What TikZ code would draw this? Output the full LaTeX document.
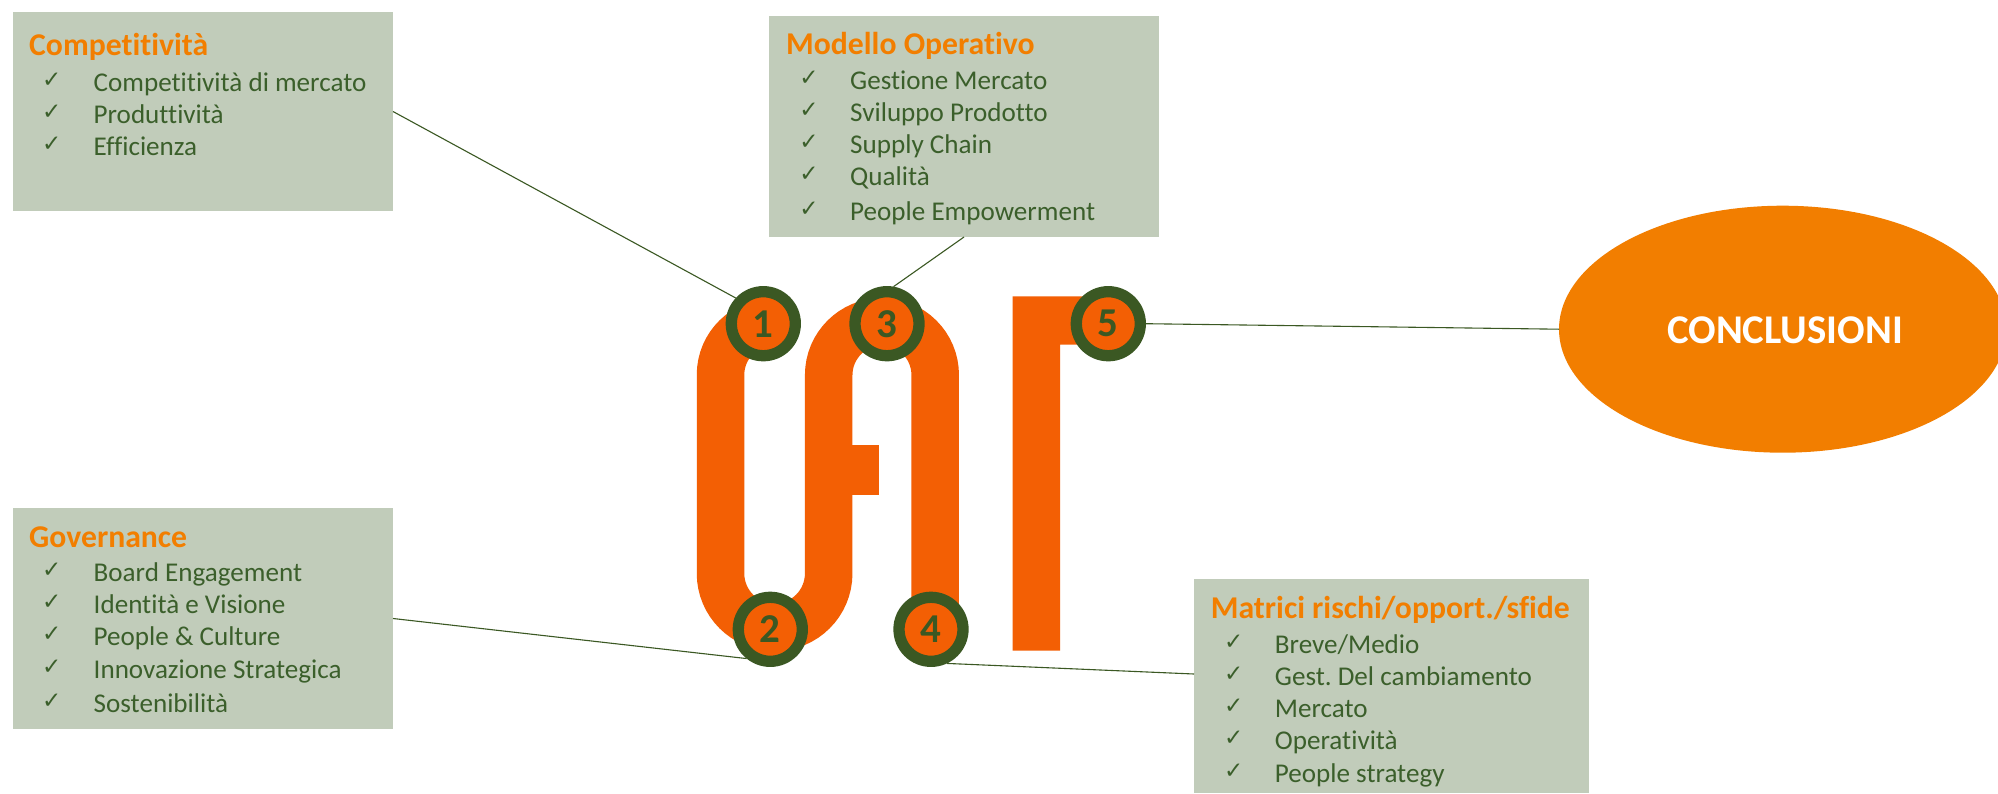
\documentclass[tikz,border=0pt]{standalone}
\usepackage{fontspec}
\setmainfont[Ligatures={NoCommon}]{Carlito}
\newfontfamily\checkfont{DejaVu Sans}
\usetikzlibrary{shapes.geometric}
\definecolor{boxgreen}{HTML}{C1CCBA}
\definecolor{darkgr}{HTML}{3B5823}
\definecolor{txtgr}{HTML}{3B5F2B}
\definecolor{logoor}{HTML}{F35F04}
\definecolor{softor}{HTML}{F27E00}
\frenchspacing
\tikzset{
  boxst/.style={fill=boxgreen,draw=none,anchor=north west,inner sep=0pt,outer sep=0pt},
  titlest/.style={anchor=base west,inner sep=0pt,text=softor,font=\fontsize{31.7}{34}\selectfont\bfseries},
  itemst/.style={anchor=base west,inner sep=0pt,text=txtgr,font=\fontsize{27.1}{30}\selectfont},
  checkst/.style={anchor=base west,inner sep=0pt,text=txtgr,font=\checkfont\fontsize{23}{26}\selectfont},
  numst/.style={circle,draw=darkgr,fill=logoor,line width=11.3pt,minimum size=64pt,inner sep=0pt,text=darkgr,font=\fontsize{41}{44}\selectfont\bfseries},
  ellst/.style={ellipse,fill=softor,inner sep=0pt,outer sep=0pt,minimum width=447.4pt,minimum height=247pt,text=white,font=\fontsize{40.8}{44}\selectfont\bfseries},
  linkst/.style={draw=darkgr,line width=1.1pt},
  logost/.style={fill=logoor,draw=none}
}
\newcommand{\listline}[5]{%
  \node[checkst] (#1c) at (#3,#2-4) {✓};
  \node[itemst] (#1t) at (#4,#2) {#5};
}
\begin{document}
\begin{tikzpicture}[x=1pt,y=-1pt]
\useasboundingbox (0,0) rectangle (1998,793);
\clip (0,0) rectangle (1998,793);
\fill[white] (0,0) rectangle (1998,793);

% boxes
\node[boxst,minimum width=380pt,minimum height=199pt] (b1) at (13,12) {};
\node[boxst,minimum width=380pt,minimum height=221pt] (b2) at (13,508) {};
\node[boxst,minimum width=390pt,minimum height=221pt] (b3) at (769,16) {};
\node[boxst,minimum width=395pt,minimum height=214pt] (b4) at (1194,579) {};
\coordinate (b4a) at (1194,674);
\node[ellst] (concl) at (1782.7,329.2) {};

% logo
\draw[draw=logoor,line width=47.5pt]
  (774.6,321.8) .. controls (744.7,321.8) and (720.5,345.1) .. (720.5,375)
  -- (720.5,573.3)
  .. controls (720.5,603.2) and (744.7,627.3) .. (774.6,627.3)
  .. controls (804.5,627.3) and (828.7,603.2) .. (828.7,573.3)
  -- (828.7,375)
  .. controls (828.7,345.6) and (852.6,321.8) .. (882,321.8)
  .. controls (911.4,321.8) and (935.2,345.6) .. (935.2,375)
  -- (935.2,629);
\fill[logost] (852.3,445.3) rectangle (879.3,494.7);
\fill[logost] (1012.7,296.3) -- (1108,296.3) -- (1108,344.7) -- (1060,344.7) -- (1060,650.7) -- (1012.7,650.7) -- cycle;

% circles
\node[numst] (n1) at (763.3,323.7) {1};
\node[numst] (n2) at (770.3,629.3) {2};
\node[numst] (n3) at (887,323.7) {3};
\node[numst] (n4) at (931,629.3) {4};
\node[numst] (n5) at (1108.3,323.7) {5};

% connectors
\draw[linkst] (b1.east) -- (n1.137);
\draw[linkst] (b2.east) -- (n2.231);
\draw[linkst] (b3.south) -- (n3.80);
\draw[linkst] (b4a) -- (n4.-65);
\draw[linkst] (n5.east) -- (concl.west);

% texts
\node[titlest] (t1) at (29,55.5) {Competitività};
\listline{a1}{91}{42}{93.5}{Competitività di mercato}
\listline{a2}{123}{42}{93.5}{Produttività}
\listline{a3}{155}{42}{93.5}{Efficienza}

\node[titlest] (t2) at (29,547.2) {Governance};
\listline{g1}{581.5}{42}{93.5}{Board Engagement}
\listline{g2}{613.5}{42}{93.5}{Identità e Visione}
\listline{g3}{645.5}{42}{93.5}{People \& Culture}
\listline{g4}{678}{42}{93.5}{Innovazione Strategica}
\listline{g5}{712}{42}{93.5}{Sostenibilità}

\node[titlest] (t3) at (786,54.2) {Modello Operativo};
\listline{m1}{89}{799.2}{850}{Gestione Mercato}
\listline{m2}{121.3}{799.2}{850}{Sviluppo Prodotto}
\listline{m3}{153}{799.2}{850}{Supply Chain}
\listline{m4}{185}{799.2}{850}{Qualità}
\listline{m5}{220}{799.2}{850}{People Empowerment}

\node[titlest] (t4) at (1210.7,618) {Matrici rischi/opport./sfide};
\listline{r1}{653.3}{1224}{1274.7}{Breve/Medio}
\listline{r2}{685}{1224}{1274.7}{Gest. Del cambiamento}
\listline{r3}{717}{1224}{1274.7}{Mercato}
\listline{r4}{749}{1224}{1274.7}{Operatività}
\listline{r5}{782.5}{1224}{1274.7}{People strategy}

\node[inner sep=0pt,text=white,font=\fontsize{40.8}{44}\selectfont\bfseries] (ct) at (1785,330) {CONCLUSIONI};
\end{tikzpicture}
\end{document}
